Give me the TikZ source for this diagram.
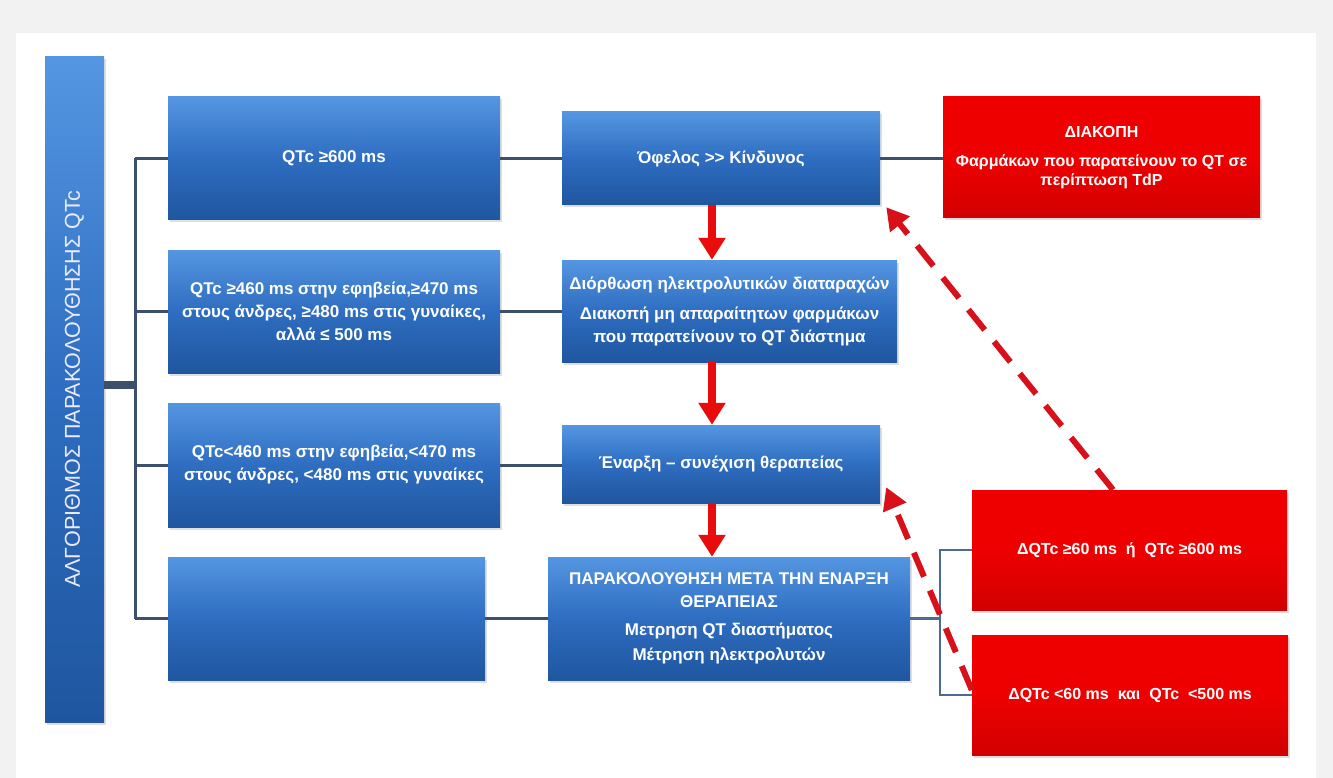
\documentclass[tikz,border=0pt]{standalone}
\usepackage{fontspec}
\setmainfont{Liberation Sans}
\usetikzlibrary{arrows.meta,shadows}
\definecolor{bggray}{HTML}{F2F2F2}
\definecolor{btop}{HTML}{5596E2}
\definecolor{bmid}{HTML}{2E6DC0}
\definecolor{bbot}{HTML}{1F569F}
\definecolor{rfill}{HTML}{EE0000}
\definecolor{rarrow}{HTML}{E80C0C}
\definecolor{rdash}{HTML}{D8101A}
\definecolor{connc}{HTML}{3C4F6B}
\definecolor{connr}{HTML}{4C6A92}
\tikzset{
  bluebox/.style={rectangle, inner sep=2pt, align=center, text=white,
    top color=btop, bottom color=bbot, middle color=bmid,
    drop shadow={opacity=0.25, shadow xshift=1.5pt, shadow yshift=-2.5pt},
    font=\fontsize{17}{23}\selectfont\bfseries},
  redbox/.style={rectangle, inner sep=2pt, align=center, text=white,
    top color=rfill, bottom color=rfill!88!black, middle color=rfill,
    drop shadow={opacity=0.25, shadow xshift=1.5pt, shadow yshift=-2.5pt},
    font=\fontsize{16}{19}\selectfont\bfseries},
  conn/.style={draw=connc, line width=3pt},
  connright/.style={draw=connr, line width=2.5pt},
  trunkline/.style={draw=connc, line width=8pt},
  redarrow/.style={draw=rarrow, line width=8pt, -{Triangle[width=26pt,length=22pt]}},
  dasharrow/.style={draw=rdash, line width=6pt, dash pattern=on 26pt off 15pt,
    -{Triangle[width=24pt,length=22pt]}}
}
\begin{document}
\begin{tikzpicture}[x=1pt,y=-1pt]
\useasboundingbox (0,0) rectangle (1333,778);
\fill[bggray] (0,0) rectangle (1333,778);
\fill[white] (16,33) rectangle (1316,778);

% left bar
\node[bluebox, minimum width=59pt, minimum height=665pt] (bar) at (74.5,389.5) {};
\node[rotate=90, text=white!92!blue, font=\fontsize{21.5}{24}\selectfont] (bartxt) at (bar.center)
  {ΑΛΓΟΡΙΘΜΟΣ ΠΑΡΑΚΟΛΟΥΘΗΣΗΣ QTc};

% left boxes
\node[bluebox, minimum width=332pt, minimum height=123pt] (L1) at (334,158.5) {QTc ≥600 ms};
\node[bluebox, minimum width=332pt, minimum height=123pt] (L2) at (334,311.5)
  {QTc ≥460 ms στην εφηβεία,≥470 ms\\στους άνδρες, ≥480 ms στις γυναίκες,\\αλλά ≤ 500 ms};
\node[bluebox, minimum width=332pt, minimum height=124pt] (L3) at (334,465)
  {QTc<460 ms στην εφηβεία,<470 ms\\στους άνδρες, <480 ms στις γυναίκες};
\node[bluebox, minimum width=317pt, minimum height=123pt] (L4) at (326.5,618.5) {};

% middle boxes
\node[bluebox, minimum width=318pt, minimum height=93pt] (M1) at (721,158.5) {Όφελος >{}> Κίνδυνος};
\node[bluebox, minimum width=335pt, minimum height=102pt] (M2) at (729.5,311)
  {Διόρθωση ηλεκτρολυτικών διαταραχών\\[7pt]Διακοπή μη απαραίτητων φαρμάκων\\που παρατείνουν το QT διάστημα};
\node[bluebox, minimum width=318pt, minimum height=78pt] (M3) at (721,464) {Έναρξη – συνέχιση θεραπείας};
\node[bluebox, minimum width=362pt, minimum height=123pt] (M4) at (729,618.5)
  {ΠΑΡΑΚΟΛΟΥΘΗΣΗ ΜΕΤΑ ΤΗΝ ΕΝΑΡΞΗ\\ΘΕΡΑΠΕΙΑΣ\\[5pt]Μετρηση QT διαστήματος\\[2pt]Μέτρηση ηλεκτρολυτών};

% red boxes
\node[redbox, minimum width=317pt, minimum height=121pt] (R1) at (1101.5,157.5)
  {ΔΙΑΚΟΠΗ\\[10pt]Φαρμάκων που παρατείνουν το QT σε\\περίπτωση TdP};
\node[redbox, minimum width=315pt, minimum height=120pt] (R2) at (1129.5,550)
  {ΔQTc ≥60 ms\ \ ή\ \ QTc ≥600 ms};
\node[redbox, minimum width=316pt, minimum height=120pt] (R3) at (1130,695)
  {ΔQTc <60 ms\ \ και\ \ QTc\ \ <500 ms};

% trunk and branches
\coordinate (tk) at (135,385);
\draw[trunkline] (bar.east |- tk) -- (tk);
\draw[conn] (tk |- L1.west) -- (tk |- L4.west);
\draw[conn] (tk |- L1.west) -- (L1.west);
\draw[conn] (tk |- L2.west) -- (L2.west);
\draw[conn] (tk |- L3.west) -- (L3.west);
\draw[conn] (tk |- L4.west) -- (L4.west);

% left to middle
\draw[conn] (L1.east) -- (L1.east -| M1.west);
\draw[conn] (L2.east) -- (L2.east -| M2.west);
\draw[conn] (L3.east) -- (L3.east -| M3.west);
\draw[conn] (L4.east) -- (L4.east -| M4.west);

% middle to red
\draw[conn] (M1.east) -- (M1.east -| R1.west);
\coordinate (br) at (940,618.5);
\draw[connright] (M4.east) -- (br);
\draw[connright] (R2.west) -- (R2.west -| br) -- (R3.west -| br) -- (R3.west);

% red down arrows
\coordinate (ax) at (712,0);
\draw[redarrow] (ax |- M1.south) -- (ax |- M2.north);
\draw[redarrow] (ax |- M2.south) -- (ax |- M3.north);
\draw[redarrow] (ax |- M3.south) -- (ax |- M4.north);

% dashed arrows
\draw[dasharrow] ([xshift=-16.5pt]R2.north) -- ([xshift=6pt,yshift=-2pt]M1.south east);
\draw[dasharrow] ([yshift=5pt]R3.west) -- ([xshift=6pt,yshift=16pt]M3.south east);
\end{tikzpicture}
\end{document}
